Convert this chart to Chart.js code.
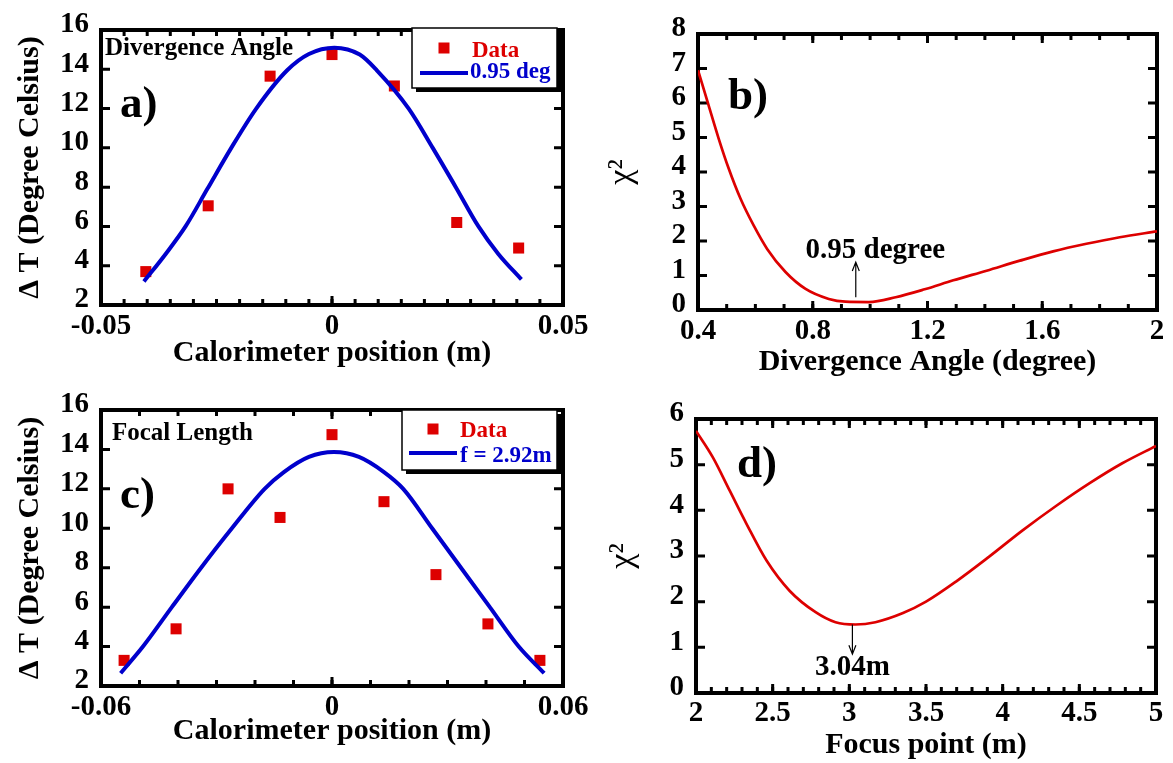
<!DOCTYPE html>
<html>
<head>
<meta charset="utf-8">
<script src="https://cdn.jsdelivr.net/npm/chart.js@4.4.1/dist/chart.umd.min.js"></script>
<style>
    html, body { margin: 0; padding: 0; background: #fff; }
    #wrap { position: relative; width: 1173px; height: 763px; }
    #wrap canvas { position: absolute; left: 0; top: 0; }
</style>
</head>
<body>
<div id="wrap">
    <canvas id="chartA" width="1173" height="763"></canvas>
    <canvas id="chartB" width="1173" height="763"></canvas>
    <canvas id="chartC" width="1173" height="763"></canvas>
    <canvas id="chartD" width="1173" height="763"></canvas>
</div>
<script>
// a) divergence angle scan: measured points and fitted profile
var aPosX = [-0.0403, -0.0268, -0.0134, 0, 0.0135, 0.027, 0.0404];
var aTemp = [3.7, 7.05, 13.65, 14.75, 13.15, 6.2, 4.9];
var aFitX = [-0.0407, -0.036, -0.0317, -0.027, -0.0218, -0.0164, -0.0097, -0.005, 0.0005, 0.006, 0.0097, 0.0166, 0.0218, 0.0268, 0.0317, 0.036, 0.041];
var aFitY = [3.2, 4.6, 6, 7.9, 10, 12, 13.95, 14.78, 15.1, 14.75, 13.95, 12, 10, 8, 6, 4.6, 3.3];

// b) chi-square vs divergence angle
var bAngle = [0.4, 0.437, 0.472, 0.507, 0.548, 0.594, 0.641, 0.705, 0.775, 0.856, 0.914, 0.996, 1.089, 1.19, 1.29, 1.406, 1.522, 1.638, 1.754, 1.87, 2.0];
var bChi = [6.95, 5.93, 4.97, 4.1, 3.23, 2.45, 1.77, 1.1, 0.61, 0.32, 0.24, 0.23, 0.37, 0.6, 0.86, 1.14, 1.43, 1.7, 1.92, 2.11, 2.28];

// c) focal length scan: measured points and fitted profile
var cPosX = [-0.054, -0.0405, -0.027, -0.0135, 0, 0.0135, 0.027, 0.0405, 0.054];
var cTemp = [3.3, 4.9, 12.0, 10.55, 14.75, 11.35, 7.65, 5.15, 3.3];
var cFitX = [-0.0549, -0.0491, -0.0416, -0.034, -0.026, -0.0175, -0.0125, -0.006, 0.0005, 0.007, 0.0135, 0.0185, 0.026, 0.0335, 0.041, 0.0485, 0.0551];
var cFitY = [2.65, 4, 6, 8, 10, 12, 12.85, 13.62, 13.87, 13.62, 12.85, 12, 10, 8, 6, 4, 2.65];

// d) chi-square vs focus point
var dFocus = [2.0, 2.11, 2.22, 2.33, 2.46, 2.61, 2.78, 2.91, 3.04, 3.17, 3.35, 3.5, 3.7, 3.91, 4.13, 4.35, 4.57, 4.78, 5.0];
var dChi = [5.74, 5.16, 4.43, 3.7, 2.9, 2.24, 1.77, 1.55, 1.5, 1.55, 1.75, 2.0, 2.45, 2.98, 3.56, 4.1, 4.6, 5.03, 5.41];

var RED = '#dd0000', BLUE = '#0000cc';
var SERIF = "'Liberation Serif', 'Times New Roman', serif";
var W = 1173, H = 763;

Chart.defaults.font.family = SERIF;
Chart.defaults.color = '#000';

function points(xs, ys) {
    return xs.map(function(x, i) { return {x: x, y: ys[i]}; });
}

function fmt(v) {
    return String(+(+v).toFixed(3));
}

/**
 * Boxed frame with inward ticks on all four sides.
 */
function framePlugin(t) {
    return {
        id: 'frame',
        beforeDatasetsDraw: function(chart) {
            var ctx = chart.ctx, a = chart.chartArea, xs = chart.scales.x, ys = chart.scales.y;
            ctx.save();
            ctx.strokeStyle = '#000';
            ctx.lineWidth = 3;
            function marks(scale, step, len, horiz) {
                var n = Math.round((scale.max - scale.min) / step);
                ctx.beginPath();
                for (var i = 1; i < n; i++) {
                    var p = scale.getPixelForValue(scale.min + i * step);
                    if (horiz) {
                        ctx.moveTo(p, a.bottom); ctx.lineTo(p, a.bottom - len);
                        ctx.moveTo(p, a.top); ctx.lineTo(p, a.top + len);
                    } else {
                        ctx.moveTo(a.left, p); ctx.lineTo(a.left + len, p);
                        ctx.moveTo(a.right, p); ctx.lineTo(a.right - len, p);
                    }
                }
                ctx.stroke();
            }
            marks(xs, t.xMinor, 6, true);
            marks(xs, t.xMajor, 9, true);
            marks(ys, t.yMajor, 9, false);
            ctx.lineWidth = 4;
            ctx.strokeRect(a.left, a.top, a.right - a.left, a.bottom - a.top);
            ctx.restore();
        }
    };
}

/**
 * Texts, legend box and arrows drawn on top.
 */
function notePlugin(n) {
    return {
        id: 'notes',
        afterDraw: function(chart) {
            var ctx = chart.ctx, xs = chart.scales.x, ys = chart.scales.y;
            ctx.save();
            ctx.textBaseline = 'alphabetic';
            ctx.textAlign = 'left';
            (n.texts || []).forEach(function(t) {
                ctx.font = 'bold ' + t.size + 'px ' + SERIF;
                ctx.fillStyle = t.color || '#000';
                ctx.fillText(t.text, t.x, t.y);
            });
            if (n.legend) {
                var L = n.legend;
                ctx.fillStyle = '#000';
                ctx.fillRect(L.x + 4, L.y + 4, L.w, L.h);
                ctx.fillStyle = '#fff';
                ctx.fillRect(L.x, L.y, L.w, L.h);
                ctx.lineWidth = 1.5;
                ctx.strokeStyle = '#000';
                ctx.strokeRect(L.x, L.y, L.w, L.h);
                ctx.fillStyle = RED;
                ctx.fillRect(L.x + L.sq[0] - 5.5, L.y + L.sq[1] - 5.5, 11, 11);
                ctx.font = 'bold 23px ' + SERIF;
                ctx.fillText('Data', L.x + L.dataText[0], L.y + L.dataText[1]);
                ctx.strokeStyle = BLUE;
                ctx.lineWidth = 4;
                ctx.beginPath();
                ctx.moveTo(L.x + L.line[0], L.y + L.line[2]);
                ctx.lineTo(L.x + L.line[1], L.y + L.line[2]);
                ctx.stroke();
                ctx.fillStyle = BLUE;
                ctx.fillText(L.fitText, L.x + L.fitPos[0], L.y + L.fitPos[1]);
            }
            if (n.arrow) {
                var A = n.arrow;
                var px = xs.getPixelForValue(A.x), y0 = ys.getPixelForValue(A.from), y1 = ys.getPixelForValue(A.to);
                var dir = y1 < y0 ? 1 : -1;
                ctx.strokeStyle = '#000';
                ctx.lineWidth = 1.2;
                ctx.beginPath();
                ctx.moveTo(px, y0); ctx.lineTo(px, y1);
                ctx.moveTo(px - 3.5, y1 + dir * 9); ctx.lineTo(px, y1); ctx.lineTo(px + 3.5, y1 + dir * 9);
                ctx.stroke();
                ctx.font = 'bold 29px ' + SERIF;
                ctx.fillStyle = '#000';
                ctx.fillText(A.label, xs.getPixelForValue(A.labelX), ys.getPixelForValue(A.labelY));
            }
            ctx.restore();
        }
    };
}

function makePanel(id, p) {
    var area = p.area, yw = p.yAxisWidth, xh = p.xAxisHeight;
    return new Chart(document.getElementById(id).getContext('2d'), {
        type: 'scatter',
        data: { datasets: p.datasets },
        options: {
            responsive: false,
            animation: false,
            events: [],
            layout: {
                padding: { left: area.l - yw, top: area.t, right: W - area.r, bottom: H - area.b - xh }
            },
            plugins: { legend: { display: false }, tooltip: { enabled: false } },
            scales: {
                x: {
                    type: 'linear', min: p.xMin, max: p.xMax,
                    grid: { display: false, drawTicks: false },
                    border: { display: false },
                    ticks: { stepSize: p.xStep, autoSkip: false, padding: p.xLabelPad, maxRotation: 0, font: { size: 29, weight: 'bold' }, callback: fmt },
                    title: { display: true, text: p.xTitle, font: { size: 30, weight: 'bold' }, padding: { top: 0, bottom: p.xTitlePad } },
                    afterFit: function(s) { s.height = xh; }
                },
                y: {
                    type: 'linear', min: p.yMin, max: p.yMax,
                    grid: { display: false, drawTicks: false },
                    border: { display: false },
                    ticks: { stepSize: p.yStep, autoSkip: false, padding: 12, labelOffset: -5, font: { size: 29, weight: 'bold' }, callback: fmt },
                    title: { display: true, text: p.yTitle, font: p.yTitleFont, padding: { top: p.yTitlePad, bottom: 0 } },
                    afterFit: function(s) { s.width = yw; }
                }
            }
        },
        plugins: [framePlugin(p.marks), notePlugin(p.notes)]
    });
}

function fitLine(xs, ys, color, width) {
    return { data: points(xs, ys), showLine: true, pointRadius: 0, borderColor: color, borderWidth: width, cubicInterpolationMode: 'monotone' };
}

function dataPoints(xs, ys) {
    return { data: points(xs, ys), showLine: false, pointStyle: 'rect', pointRadius: 7.8, pointBorderWidth: 0, backgroundColor: RED, borderColor: RED };
}

makePanel('chartA', {
    area: { l: 101, t: 30, r: 563, b: 305 }, yAxisWidth: 101, xAxisHeight: 70,
    xMin: -0.05, xMax: 0.05, xStep: 0.05, yMin: 2, yMax: 16, yStep: 2,
    xLabelPad: 4, xTitle: 'Calorimeter position (m)', xTitlePad: 4,
    yTitle: '\u0394 T (Degree Celsius)', yTitleFont: { size: 30, weight: 'bold' }, yTitlePad: 12,
    marks: { xMinor: 0.005, xMajor: 0.05, yMajor: 2 },
    datasets: [fitLine(aFitX, aFitY, BLUE, 4), dataPoints(aPosX, aTemp)],
    notes: {
        texts: [
            { text: 'Divergence Angle', x: 105, y: 55, size: 25 },
            { text: 'a)', x: 120, y: 117, size: 45 }
        ],
        legend: { x: 412, y: 28, w: 145, h: 60, sq: [32, 20], dataText: [60, 29], line: [8, 56, 45], fitText: '0.95 deg', fitPos: [58, 50] }
    }
});

makePanel('chartB', {
    area: { l: 698, t: 34, r: 1157, b: 310 }, yAxisWidth: 100, xAxisHeight: 75,
    xMin: 0.4, xMax: 2, xStep: 0.4, yMin: 0, yMax: 8, yStep: 1,
    xLabelPad: 4, xTitle: 'Divergence Angle (degree)', xTitlePad: 5,
    yTitle: '\u03c7\u00b2', yTitleFont: { size: 34, weight: 'normal' }, yTitlePad: 4,
    marks: { xMinor: 0.1, xMajor: 0.4, yMajor: 1 },
    datasets: [fitLine(bAngle, bChi, RED, 2.7)],
    notes: {
        texts: [ { text: 'b)', x: 728, y: 109, size: 45 } ],
        arrow: { x: 0.95, from: 0.37, to: 1.39, label: '0.95 degree', labelX: 0.775, labelY: 1.52 }
    }
});

makePanel('chartC', {
    area: { l: 101, t: 410, r: 563, b: 686 }, yAxisWidth: 101, xAxisHeight: 70,
    xMin: -0.06, xMax: 0.06, xStep: 0.06, yMin: 2, yMax: 16, yStep: 2,
    xLabelPad: 4, xTitle: 'Calorimeter position (m)', xTitlePad: 7,
    yTitle: '\u0394 T (Degree Celsius)', yTitleFont: { size: 30, weight: 'bold' }, yTitlePad: 12,
    marks: { xMinor: 0.01, xMajor: 0.06, yMajor: 2 },
    datasets: [fitLine(cFitX, cFitY, BLUE, 4), dataPoints(cPosX, cTemp)],
    notes: {
        texts: [
            { text: 'Focal Length', x: 112, y: 440, size: 25 },
            { text: 'c)', x: 120, y: 508, size: 45 }
        ],
        legend: { x: 402, y: 410, w: 155, h: 60, sq: [31, 19], dataText: [58, 27], line: [7, 55, 43], fitText: 'f = 2.92m', fitPos: [58, 52] }
    }
});

makePanel('chartD', {
    area: { l: 696, t: 419, r: 1156, b: 693 }, yAxisWidth: 100, xAxisHeight: 70,
    xMin: 2, xMax: 5, xStep: 0.5, yMin: 0, yMax: 6, yStep: 1,
    xLabelPad: 3, xTitle: 'Focus point (m)', xTitlePad: 0,
    yTitle: '\u03c7\u00b2', yTitleFont: { size: 34, weight: 'normal' }, yTitlePad: 7,
    marks: { xMinor: 0.1, xMajor: 0.5, yMajor: 1 },
    datasets: [fitLine(dFocus, dChi, RED, 2.7)],
    notes: {
        texts: [ { text: 'd)', x: 737, y: 477, size: 45 } ],
        arrow: { x: 3.02, from: 1.5, to: 0.85, label: '3.04m', labelX: 2.776, labelY: 0.39 }
    }
});
</script>
</body>
</html>
